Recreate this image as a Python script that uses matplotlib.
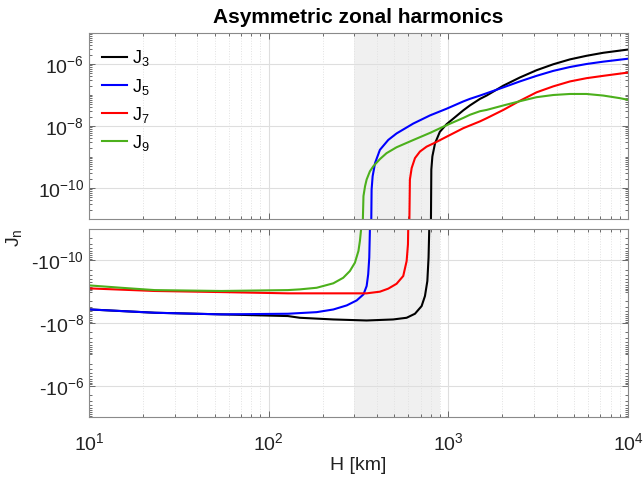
import numpy as np
import matplotlib
matplotlib.use("Agg")
import matplotlib.pyplot as plt
from matplotlib.ticker import FixedLocator, LogLocator, NullFormatter

plt.rcParams['font.family'] = ['Liberation Sans', 'DejaVu Sans']
plt.rcParams['mathtext.fontset'] = 'custom'
plt.rcParams['mathtext.rm'] = 'Liberation Sans'
plt.rcParams['mathtext.it'] = 'Liberation Sans'

# altitude [km] and signed J values
h_j3 = [10, 23.2, 54.5, 128, 149, 229, 351, 493, 586, 652, 710, 741, 764, 776, 783, 789,
        798, 804, 815, 843, 897, 977, 1211, 1318, 1500, 1633, 2023, 2500, 3097, 3837,
        4753, 5875, 7278, 10000]
j3 = [-3.68e-9, -4.7e-9, -5.3e-9, -6.0e-9, -6.8e-9, -7.7e-9, -8.3e-9, -7.7e-9, -6.8e-9,
      -5.06e-9, -2.88e-9, -1.38e-9, -4.6e-10, -8.2e-11, -1.0e-11, -1e-12,
      1e-12, 3.9e-10, 1.05e-9, 2.75e-9, 6.5e-9, 1.14e-8, 3.2e-8, 4.6e-8, 7.5e-8, 9.6e-8,
      2.0e-7, 3.67e-7, 6.3e-7, 9.8e-7, 1.41e-6, 1.84e-6, 2.30e-6, 2.93e-6]

h_j5 = [10, 23.2, 54.5, 128, 185, 229, 272, 309, 337, 351, 358, 363, 366, 368,
        371, 374, 379, 391, 416, 463, 515, 638, 791, 977, 1211, 1318, 1500, 1633, 2023,
        2500, 3097, 3837, 4753, 5875, 7278, 10000]
j5 = [-3.68e-9, -4.7e-9, -5.3e-9, -5.06e-9, -4.5e-9, -3.7e-9, -2.74e-9, -1.9e-9, -1.22e-9,
      -6.6e-10, -2.8e-10, -8.2e-11, -1.0e-11, -1e-12,
      1e-12, 8.9e-11, 2.4e-10, 6.4e-10, 1.7e-9, 3.55e-9, 5.75e-9, 1.2e-8, 2.2e-8, 3.6e-8,
      6.2e-8, 7.5e-8, 9.6e-8, 1.14e-7, 1.76e-7, 2.74e-7, 4.15e-7, 6.0e-7, 8.0e-7, 1.0e-6,
      1.19e-6, 1.48e-6]

h_j7 = [10, 23.2, 54.5, 128, 351, 416, 463, 515, 561, 586, 596, 598, 601,
        604, 611, 625, 652, 695, 757, 843, 977, 1211, 1500, 1633, 2023, 2500, 3097, 3837,
        4753, 5875, 7278, 10000]
j7 = [-7.85e-10, -9.5e-10, -1.03e-9, -1.13e-9, -1.13e-9, -1.0e-9, -8.0e-10, -5.6e-10,
      -3.16e-10, -1.05e-10, -3.1e-11, -1.0e-11, -1e-12,
      1e-12, 1.88e-10, 4.4e-10, 9.2e-10, 1.5e-9, 2.16e-9, 2.9e-9, 4.5e-9, 8.5e-9, 1.41e-8,
      1.78e-8, 3.3e-8, 6.5e-8, 1.22e-7, 1.90e-7, 2.74e-7, 3.49e-7, 4.15e-7, 5.3e-7]

h_j9 = [10, 15.1, 23.2, 54.5, 128, 149, 185, 229, 260, 283, 302, 316, 322, 327, 330,
        331, 337, 344, 351, 366, 382, 416, 453, 515, 638, 791, 977, 1211, 1318, 1500, 1633,
        2023, 2500, 3097, 3837, 4753, 5875, 7278, 9016, 10000]
j9 = [-6.3e-10, -7.5e-10, -8.9e-10, -9.5e-10, -8.9e-10, -8.45e-10, -7.5e-10, -5.4e-10,
      -3.6e-10, -2.2e-10, -1.19e-10, -5.0e-11, -2.4e-11, -1.0e-11, -1e-12,
      1e-12, 5.5e-11, 1.15e-10, 1.88e-10, 3.46e-10, 5.0e-10, 8.55e-10, 1.33e-9, 2.06e-9,
      3.53e-9, 6.0e-9, 1.06e-8, 1.82e-8, 2.3e-8, 3.0e-8, 3.3e-8, 4.6e-8, 6.3e-8, 8.5e-8,
      1.0e-7, 1.08e-7, 1.08e-7, 9.6e-8, 7.9e-8, 7.0e-8]

series = [
    (h_j3, j3, 'k', '$J_3$'),
    (h_j5, j5, '#0000ff', '$J_5$'),
    (h_j7, j7, '#ff0000', '$J_7$'),
    (h_j9, j9, '#4cb01c', '$J_9$'),
]

fig = plt.figure(figsize=(6.43, 4.79), dpi=100)
ax1 = fig.add_axes([0.1384, 0.5428, 0.8383, 0.3883])
ax2 = fig.add_axes([0.1384, 0.1294, 0.8383, 0.3925])

for h, j, c, lab in series:
    h = np.array(h, dtype=float)
    j = np.array(j)
    # positive branch on top, magnitude of negative branch below
    pos = np.where(j > 0, j, np.nan)
    neg = np.where(j < 0, -j, np.nan)
    ax1.plot(h, pos, color=c, lw=1.5, label=lab)
    ax2.plot(h, neg, color=c, lw=1.5)

for ax in (ax1, ax2):
    ax.set_xscale('log')
    ax.set_yscale('log')
    ax.set_xlim(10, 1e4)
    ax.axvspan(300, 900, color='#f0f0f0', zorder=0.1, lw=0)
    ax.set_axisbelow(True)
    ax.grid(True, which='major', color='#dedede', lw=0.8)
    ax.grid(True, which='minor', axis='x', color='#e2e2e2', lw=0.7, ls=':')
    ax.grid(False, which='minor', axis='y')
    ax.yaxis.set_major_locator(FixedLocator([1e-10, 1e-8, 1e-6]))
    ax.yaxis.set_minor_locator(LogLocator(base=10, subs=np.arange(1, 10), numticks=50))
    ax.yaxis.set_minor_formatter(NullFormatter())
    ax.tick_params(which='both', direction='in', top=True, right=True,
                   colors='#555555', labelcolor='#222222', labelsize=14, width=0.6)
    ax.tick_params(which='major', length=4)
    ax.tick_params(which='minor', length=2.5)
    for s in ax.spines.values():
        s.set_color('#8a8a8a')
        s.set_linewidth(0.8)

ax1.set_ylim(1e-11, 1e-5)
ax2.set_ylim(1e-5, 1e-11)
ax1.set_yticklabels(['$10^{-10}$', '$10^{-8}$', '$10^{-6}$'])
ax2.set_yticklabels(['-$10^{-10}$', '-$10^{-8}$', '-$10^{-6}$'])
ax1.tick_params(axis='x', labelbottom=False)
ax2.set_xticks([10, 100, 1000, 10000])
ax2.set_xticklabels(['$10^{1}$', '$10^{2}$', '$10^{3}$', '$10^{4}$'])
ax2.tick_params(axis='x', pad=11)
ax2.set_xlabel('H [km]', fontsize=14, labelpad=2, color='#222222')

fig.text(0.5576, 0.963, 'Asymmetric zonal harmonics', ha='center', va='center',
         fontsize=15, fontweight='bold')
fig.text(0.022, 0.503, '$J_n$', rotation=90, ha='center', va='center', fontsize=14,
         color='#222222')

ax1.legend(loc='upper left', frameon=False, fontsize=13, handlelength=1.4,
           handletextpad=0.3, labelspacing=0.45, borderaxespad=0.3,
           bbox_to_anchor=(0.0, 0.985))

fig.savefig('out.png', dpi=100)
